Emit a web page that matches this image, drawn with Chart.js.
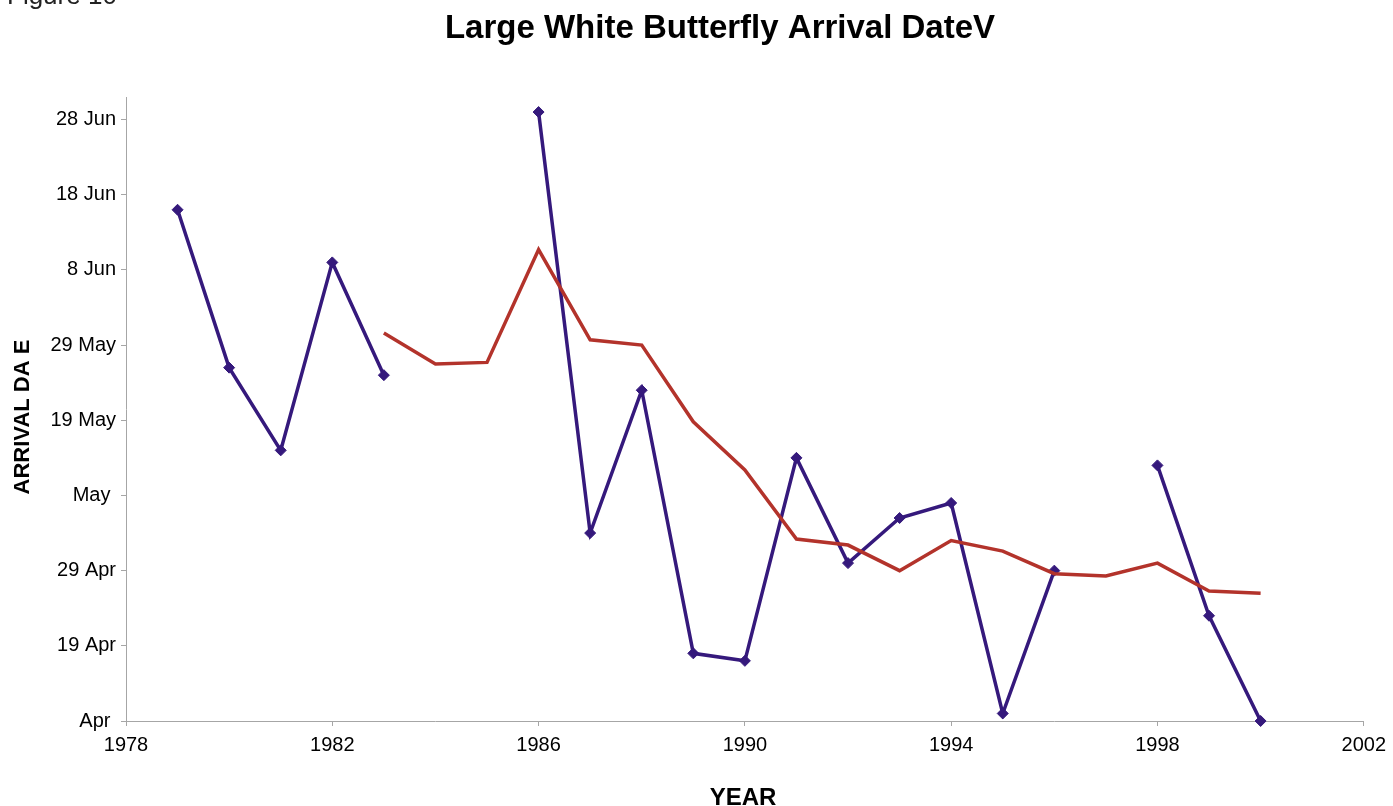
<!DOCTYPE html>
<html>
<head>
<meta charset="utf-8">
<title>Large White Butterfly Arrival Date</title>
<script src="https://cdn.jsdelivr.net/npm/chart.js@4/dist/chart.umd.min.js"></script>
<style>
  html, body { margin: 0; padding: 0; background: #ffffff; }
  #wrap { position: relative; width: 1393px; height: 806px; }
</style>
</head>
<body>
<div id="wrap"><canvas id="chart" width="1393" height="806"></canvas></div>
<script>
// Years of observation
const years = [1979, 1980, 1981, 1982, 1983, 1984, 1985, 1986, 1987, 1988, 1989,
               1990, 1991, 1992, 1993, 1994, 1995, 1996, 1997, 1998, 1999, 2000];

// First sighting, in days after the lowest gridline (null = no record)
const arrivalDays = [68, 47, 36, 61, 46, null, null, 81, 25, 44, 9,
                     8, 35, 21, 27, 29, 1, 20, null, 34, 14, 0];

// Running mean of the arrival day, 1983 onwards
const meanYears = [1983, 1984, 1985, 1986, 1987, 1988, 1989, 1990, 1991,
                   1992, 1993, 1994, 1995, 1996, 1997, 1998, 1999, 2000];
const meanDays = [51.6, 47.5, 47.7, 62.7, 50.7, 50.0, 39.8, 33.4, 24.2,
                  23.4, 20.0, 24.0, 22.6, 19.6, 19.3, 21.0, 17.3, 17.0];

// Y axis gridline positions (days) and their date labels
const dayTicks = [0, 10, 20, 30, 40, 50, 60, 70, 80];
const dayLabels = ['Apr ', '19 Apr', '29 Apr', 'May ', '19 May', '29 May', '8 Jun', '18 Jun', '28 Jun'];

const titleText = 'Large White Butterfly Arrival DateV';
const figureText = 'Figure 10';
const xTitle = 'YEAR';
const yTitle = 'ARRIVAL DA E';

const FONT = '"Liberation Sans", Arial, Helvetica, sans-serif';
const AXIS_GREY = '#a6a6a6';

// Draws the heading, figure caption and axis titles
const textPlugin = {
  id: 'textPlugin',
  afterDraw(chart) {
    const ctx = chart.ctx;
    ctx.save();
    ctx.fillStyle = '#000000';
    ctx.textBaseline = 'alphabetic';

    ctx.font = 'bold 33px ' + FONT;
    ctx.textAlign = 'center';
    ctx.fillText(titleText, 720, 38);

    ctx.font = '26px ' + FONT;
    ctx.textAlign = 'left';
    ctx.fillStyle = '#222222';
    ctx.fillText(figureText, 7, 4);

    ctx.fillStyle = '#000000';
    ctx.font = 'bold 24px ' + FONT;
    ctx.textAlign = 'center';
    ctx.fillText(xTitle, 743, 805);

    ctx.font = 'bold 22px ' + FONT;
    ctx.translate(29, 417);
    ctx.rotate(-Math.PI / 2);
    ctx.textAlign = 'center';
    ctx.fillText(yTitle, 0, 0);
    ctx.restore();
  }
};

const toPoints = (xs, ys) => xs.map((x, i) => ({ x: x, y: ys[i] }));

new Chart(document.getElementById('chart'), {
  type: 'line',
  data: {
    datasets: [
      {
        label: 'Running mean',
        data: toPoints(meanYears, meanDays),
        borderColor: '#b3332b',
        borderWidth: 3.5,
        pointRadius: 0,
        pointHoverRadius: 0,
        tension: 0,
        fill: false,
        clip: false
      },
      {
        label: 'Arrival date',
        data: toPoints(years, arrivalDays),
        borderColor: '#35197c',
        backgroundColor: '#35197c',
        borderWidth: 3.5,
        pointStyle: 'rectRot',
        pointRadius: 5.5,
        pointBorderWidth: 1,
        pointBackgroundColor: '#35197c',
        pointBorderColor: '#35197c',
        tension: 0,
        spanGaps: false,
        fill: false,
        clip: false
      }
    ]
  },
  options: {
    responsive: false,
    maintainAspectRatio: false,
    devicePixelRatio: 1,
    animation: false,
    layout: { padding: { top: 97, right: 28, left: 0, bottom: 0 } },
    plugins: {
      legend: { display: false },
      title: { display: false },
      tooltip: { enabled: false }
    },
    scales: {
      x: {
        type: 'linear',
        min: 1978,
        max: 2002,
        afterFit(scale) { scale.height = 85; },
        border: { display: true, color: AXIS_GREY, width: 1 },
        grid: { display: true, drawOnChartArea: false, drawTicks: true, tickLength: 5, color: AXIS_GREY },
        ticks: {
          stepSize: 4,
          maxRotation: 0,
          autoSkip: false,
          padding: 7,
          color: '#000000',
          font: { family: FONT, size: 20 },
          callback: (v) => String(v)
        }
      },
      y: {
        type: 'linear',
        min: 0,
        max: 83,
        afterFit(scale) { scale.width = 126; },
        afterBuildTicks(scale) { scale.ticks = dayTicks.map(v => ({ value: v })); },
        border: { display: true, color: AXIS_GREY, width: 1 },
        grid: { display: true, drawOnChartArea: false, drawTicks: true, tickLength: 5, color: AXIS_GREY },
        ticks: {
          padding: 5,
          color: '#000000',
          font: { family: FONT, size: 20 },
          callback: (v) => {
            const i = dayTicks.indexOf(v);
            return i >= 0 ? dayLabels[i] : '';
          }
        }
      }
    }
  },
  plugins: [textPlugin]
});
</script>
</body>
</html>
